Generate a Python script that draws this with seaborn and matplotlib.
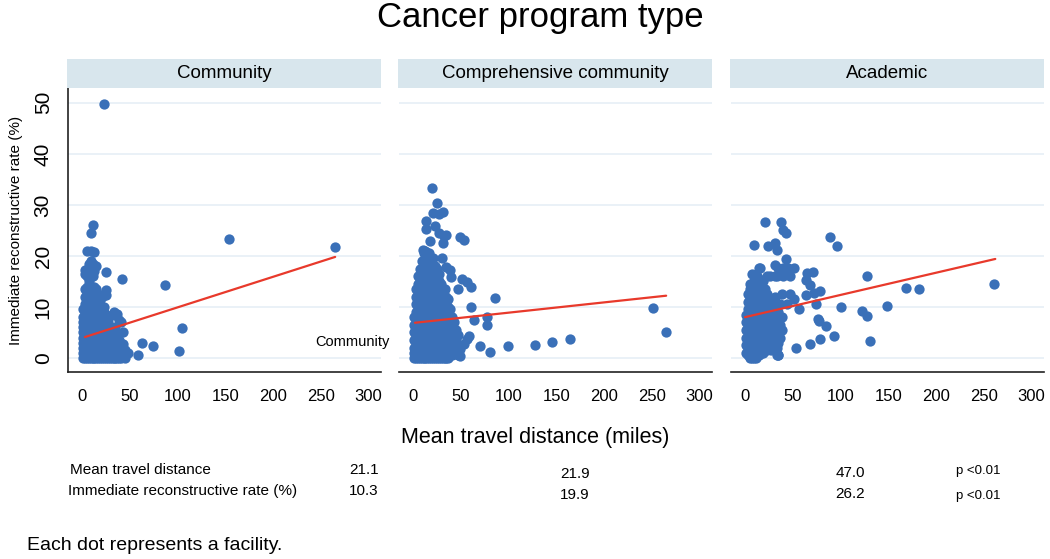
import numpy as np
import pandas as pd
import matplotlib
matplotlib.use("Agg")
import matplotlib.pyplot as plt
import seaborn as sns

# ---- data --------------------------------------------------------------------------
panels = ["Community", "Comprehensive community", "Academic"]

# Community facilities: dense cluster by column, then outliers
comm_cols = {
    1: [0, 1, 2, 3, 4, 5, 6, 7, 8, 9.5],
    3: [0, 1.5, 3, 4.5, 6, 7.5, 9, 10.5, 12, 13.5, 16.5, 17.2],
    5: [0, 1, 2.5, 4, 5.5, 7, 8.5, 10, 11.5, 13, 14, 16, 17, 21],
    7: [0, 1.5, 3, 4.5, 6, 7.5, 9, 10.5, 12, 13.5, 15, 16.5, 18.5],
    9: [0, 1, 2.5, 4, 5.5, 7, 8.5, 10, 11.5, 13, 14, 19, 21, 24.5],
    11: [0, 1.5, 3, 4.5, 6, 7.5, 9, 10.5, 12, 13.5, 16, 18.5, 26],
    13: [0, 1, 2.5, 4, 5.5, 7, 8.5, 10, 11.5, 13, 14, 17, 20.8],
    15: [0, 1.5, 3, 4.5, 6, 7.5, 9, 10.5, 12, 13.5, 18],
    17: [0, 1, 2.5, 4, 5.5, 7, 8.5, 10, 11.5, 12.5],
    19: [0, 1.5, 3, 4.5, 6, 7.5, 9, 10.5, 11.5],
    21: [0, 1, 2.5, 4, 5.5, 7, 8.5, 10, 12],
    23: [0, 1.5, 3, 4.5, 6, 7.5, 9, 10],
    25: [0, 1, 2.5, 4, 5.5, 7, 8.5, 12.3, 13.3, 16.9],
    27: [0, 1.5, 3, 4.5, 6, 7],
    29: [0, 1, 2.5, 4, 5.5],
    31: [0, 1.5, 3, 4.5, 8.5],
    33: [0, 1, 2.5, 4, 9],
    35: [0, 1.5, 3, 6, 8.5],
    37: [0, 1, 2.5, 4.5, 8.7],
    39: [0, 1.5, 3.5, 7.5],
    41: [0, 1, 2.8, 7],
    43: [0.5, 2.8, 5],
    45: [0, 1.5],
}
comm_out_x = [23.5, 154, 265, 87, 104.6, 101, 63, 74, 58.6, 48, 42]
comm_out_y = [49.8, 23.3, 21.8, 14.2, 5.8, 1.3, 3.0, 2.4, 0.5, 1.0, 15.4]

# Comprehensive community facilities
comp_cols = {
    1: [0, 1, 2, 3.5, 5, 6.5, 8],
    3: [0, 1.5, 3, 4.5, 6, 7.5, 9, 10.5, 12, 13.5],
    5: [0, 1, 2.5, 4, 5.5, 7, 8.5, 10, 11.5, 13, 14.5, 16],
    7: [0, 1.5, 3, 4.5, 6, 7.5, 9, 10.5, 12, 13.5, 15, 16.5, 17.5],
    9: [0, 1, 2.5, 4, 5.5, 7, 8.5, 10, 11.5, 13, 14.5, 16, 17.5, 19],
    11: [0, 1.5, 3, 4.5, 6, 7.5, 9, 10.5, 12, 13.5, 15, 16.5, 18, 20.5],
    13: [0, 1, 2.5, 4, 5.5, 7, 8.5, 10, 11.5, 13, 14.5, 16, 17.5, 19, 21],
    15: [0, 1.5, 3, 4.5, 6, 7.5, 9, 10.5, 12, 13.5, 15, 16.5, 18, 19.5],
    17: [0, 1, 2.5, 4, 5.5, 7, 8.5, 10, 11.5, 13, 14.5, 16, 17.5, 19, 20.5],
    19: [0, 1.5, 3, 4.5, 6, 7.5, 9, 10.5, 12, 13.5, 15, 16.5, 18],
    21: [0, 1, 2.5, 4, 5.5, 7, 8.5, 10, 11.5, 13, 14.5, 16, 17.5, 19.5],
    23: [0, 1.5, 3, 4.5, 6, 7.5, 9, 10.5, 12, 13.5, 15, 16.5, 18],
    25: [0, 1, 2.5, 4, 5.5, 7, 8.5, 10, 11.5, 13, 14.5, 16, 17.5],
    27: [0, 1.5, 3, 4.5, 6, 7.5, 9, 10.5, 12, 13.5, 15, 16.5],
    29: [0, 1, 2.5, 4, 5.5, 7, 8.5, 10, 11.5, 13, 14.5],
    31: [0, 1.5, 3, 4.5, 6, 7.5, 9, 10.5, 12, 13],
    33: [0, 1, 2.5, 4, 5.5, 7, 8.5, 10, 11.5, 13.5],
    35: [0, 1.5, 3, 4.5, 6, 7.5, 9, 10.5, 12],
    37: [0, 1, 2.5, 4, 5.5, 7, 8.5, 10, 11.5],
    39: [0.5, 2, 3.5, 5, 6.5, 8, 9.5],
    41: [0.5, 2, 3.5, 5, 6.5, 8],
    43: [1, 3, 5, 7],
    45: [1.5, 3.5, 5.5],
    47: [0.5, 2.5, 4.5],
}
comp_out_x = [20, 25, 21, 27, 31, 13.7, 13.7, 23, 27, 32, 35, 49.5, 53, 18, 31, 10, 14,
              30, 35, 38.6, 40, 51, 56, 60.7, 46.7, 86, 61, 77.5, 77.5, 63.5, 59, 56,
              53, 49.5, 49.5, 70.5, 81, 99.6, 127.7, 146, 164.6, 251, 265]
comp_out_y = [33.4, 30.3, 28.4, 28.2, 28.7, 26.9, 25.3, 25.9, 24.4, 23.9, 24.1, 23.8, 23.1,
              22.9, 22.5, 21.2, 20.8, 19.5, 17.9, 17.2, 15.9, 15.4, 14.8, 14.0, 13.6, 11.8,
              10.0, 8.1, 6.4, 7.4, 4.3, 3.7, 2.8, 1.8, 0.3, 2.3, 1.2, 2.3, 2.6, 3.1, 3.7,
              9.7, 5.0]

# Academic facilities
acad_cols = {
    1: [1, 2.5, 4, 5.5, 7, 8.5],
    3: [0.5, 2, 3.5, 5, 6.5, 8, 9.5, 11, 12.5],
    5: [0, 1.5, 3, 4.5, 6, 7.5, 9, 10.5, 12, 13.5, 14.5],
    7: [0, 1, 2.5, 4, 5.5, 7, 8.5, 10, 11.5, 13, 14.5, 16.5],
    9: [0, 1.5, 3, 4.5, 6, 7.5, 9, 10.5, 12, 13.5, 15],
    11: [0, 1, 2.5, 4, 5.5, 7, 8.5, 10, 11.5, 13, 14.5, 16],
    13: [0.5, 2, 3.5, 5, 6.5, 8, 9.5, 11, 12.5, 14],
    15: [0.5, 2, 3.5, 5, 6.5, 8, 9.5, 11, 12.5, 14, 15.5, 17.6],
    17: [1, 2.5, 4, 5.5, 7, 8.5, 10, 11.5, 13, 14.5],
    19: [1, 3, 4.5, 6, 7.5, 9, 10.5, 12, 13.5, 15],
    21: [1.5, 3, 4.5, 6, 7.5, 9, 10.5, 12, 13.5],
    23: [1.5, 3.5, 5, 6.5, 8, 9.5, 11, 12.5, 16],
    25: [2, 4, 5.5, 7, 8.5, 10, 11.5],
    27: [1.5, 3, 5, 7, 9],
    29: [2, 4, 6, 8.5, 10.5],
    31: [1.5, 3.5, 6, 12, 16],
    33: [0.5, 2, 4.5, 7.5],
    35: [0.5, 3, 6, 9],
    37: [4, 6.5, 10.5],
    39: [5.5, 8, 12.5],
}
acad_out_x = [20.8, 37.3, 39.4, 43, 9.5, 24.3, 31.3, 33, 89.4, 95.8, 43, 31, 35, 40, 45, 51,
              16, 12, 26, 33, 40, 47, 65, 71, 64, 68, 72, 64, 78, 127.5, 168, 182.4, 261,
              47, 51, 44, 56, 74.6, 100, 149, 122, 128, 76, 77, 85, 93, 79, 68, 53, 131, 35]
acad_out_y = [26.7, 26.6, 25.1, 24.4, 22.1, 22.0, 22.6, 21.2, 23.8, 22.0, 19.3, 18.2, 17.6,
              17.6, 17.6, 17.6, 17.6, 16.0, 16.0, 16.0, 16.0, 16.0, 16.6, 16.9, 15.2, 14.2,
              12.7, 12.3, 13.2, 16.1, 13.8, 13.5, 14.5, 12.6, 11.5, 10.5, 9.6, 10.6, 10.0,
              10.2, 9.2, 8.2, 7.7, 7.2, 6.2, 4.3, 3.8, 2.8, 2.0, 3.3, 0.5]

# fitted lines (end points)
fit_x = [[3, 265], [2, 265], [0, 262]]
fit_y = [[4.1, 19.8], [6.9, 12.2], [8.0, 19.4]]

# summary table
row_labels = ["Mean travel distance", "Immediate reconstructive rate (%)"]
mean_dist = ["21.1", "21.9", "47.0"]
recon_rate = ["10.3", "19.9", "26.2"]
p_vals = ["p <0.01", "p <0.01"]

x_ticks = [0, 50, 100, 150, 200, 250, 300]
y_ticks = [0, 10, 20, 30, 40, 50]


def to_frame(cols, out_x, out_y):
    xs, ys = [], []
    for x, yl in cols.items():
        xs += [x] * len(yl)
        ys += yl
    return pd.DataFrame({"dist": xs + out_x, "rate": ys + out_y})


frames = [to_frame(comm_cols, comm_out_x, comm_out_y),
          to_frame(comp_cols, comp_out_x, comp_out_y),
          to_frame(acad_cols, acad_out_x, acad_out_y)]

# ---- plot ---------------------------------------------------------------------------
sns.set_style("white")
plt.rcParams["font.family"] = ["Liberation Sans", "DejaVu Sans"]
plt.rcParams["text.color"] = "black"
plt.rcParams["xtick.color"] = "black"
plt.rcParams["ytick.color"] = "black"
plt.rcParams["axes.labelcolor"] = "black"

dot_col = "#3a70b8"
fit_col = "#e8392b"
grid_col = "#e6eff6"
strip_col = "#d8e6ed"

fig = plt.figure(figsize=(10.5, 5.59), dpi=100)

lefts = [68, 399, 731]
width = 313
for i, (name, df) in enumerate(zip(panels, frames)):
    ax = fig.add_axes([lefts[i] / 1050, 187 / 559, width / 1050, 284 / 559])
    for yv in y_ticks:
        ax.axhline(yv, color=grid_col, lw=1.2, zorder=0)
    sns.scatterplot(data=df, x="dist", y="rate", ax=ax, color=dot_col, s=55,
                    linewidth=0, alpha=1, zorder=3)
    sns.lineplot(x=fit_x[i], y=fit_y[i], ax=ax, color=fit_col, lw=1.6, zorder=4)
    ax.set_xlim(-14.7, 313)
    ax.set_ylim(-2.75, 52.9)
    ax.set_xticks(x_ticks)
    ax.set_xticklabels([str(t) for t in x_ticks], fontsize=12)
    ax.tick_params(axis="x", direction="out", length=7, width=1, color="#222222", pad=5)
    ax.set_xlabel("")
    ax.set_ylabel("")
    for s in ["top", "right"]:
        ax.spines[s].set_visible(False)
    ax.spines["bottom"].set_color("#222222")
    ax.spines["bottom"].set_linewidth(1.2)
    if i == 0:
        ax.set_yticks(y_ticks)
        ax.set_yticklabels([str(t) for t in y_ticks], rotation=90, va="center", fontsize=15)
        ax.tick_params(axis="y", direction="out", length=7, width=1, color="#222222", pad=4)
        ax.spines["left"].set_color("#222222")
        ax.spines["left"].set_linewidth(1.2)
        ax.set_ylabel("Immediate reconstructive rate (%)", fontsize=11, labelpad=8)
        ax.text(322, 3.1, "Community", ha="right", va="center", fontsize=10.5, clip_on=False)
    else:
        ax.spines["left"].set_visible(False)
        ax.set_yticks([])
    # strip header
    sax = fig.add_axes([(lefts[i] - 1) / 1050, 471 / 559, (width + 1) / 1050, 29 / 559])
    sax.set_facecolor(strip_col)
    sax.set_xticks([])
    sax.set_yticks([])
    for s in sax.spines.values():
        s.set_visible(False)
    sax.text(0.5, 0.5, name, ha="center", va="center", fontsize=13.5, transform=sax.transAxes)

fig.text(540 / 1050, 1 - 18 / 559, "Cancer program type", ha="center", va="center", fontsize=25)
fig.text(535 / 1050, 1 - 437 / 559, "Mean travel distance (miles)", ha="center", va="center",
         fontsize=15.5)

ty1 = 1 - 470 / 559
ty2 = 1 - 491 / 559
fig.text(70 / 1050, ty1, row_labels[0], ha="left", va="center", fontsize=11)
fig.text(68 / 1050, ty2, row_labels[1], ha="left", va="center", fontsize=11)
fig.text(364 / 1050, ty1, mean_dist[0], ha="center", va="center", fontsize=11)
fig.text(364 / 1050, ty2, recon_rate[0], ha="center", va="center", fontsize=11)
fig.text(575 / 1050, 1 - 474 / 559, mean_dist[1], ha="center", va="center", fontsize=11)
fig.text(575 / 1050, 1 - 495 / 559, recon_rate[1], ha="center", va="center", fontsize=11)
fig.text(850 / 1050, 1 - 473 / 559, mean_dist[2], ha="center", va="center", fontsize=11)
fig.text(850 / 1050, 1 - 494 / 559, recon_rate[2], ha="center", va="center", fontsize=11)
fig.text(978 / 1050, 1 - 471 / 559, p_vals[0], ha="center", va="center", fontsize=9.5)
fig.text(978 / 1050, 1 - 496 / 559, p_vals[1], ha="center", va="center", fontsize=9.5)

fig.text(27 / 1050, 1 - 545 / 559, "Each dot represents a facility.", ha="left", va="center",
         fontsize=14)

fig.savefig("out.png", dpi=100)
